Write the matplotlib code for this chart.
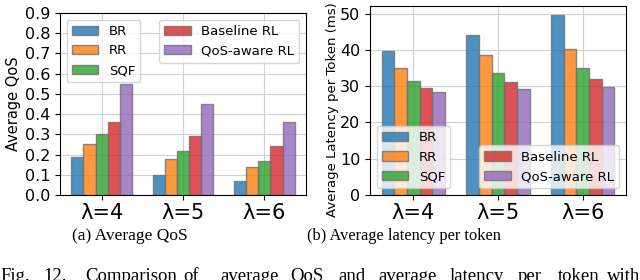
import numpy as np
import matplotlib
matplotlib.use('Agg')
import matplotlib.pyplot as plt

groups = ['λ=4', 'λ=5', 'λ=6']
methods = ['BR', 'RR', 'SQF', 'Baseline RL', 'QoS-aware RL']
colors = ['#1f77b4', '#ff7f0e', '#2ca02c', '#d62728', '#9467bd']

qos = {
    'BR': [0.19, 0.10, 0.07],
    'RR': [0.25, 0.18, 0.14],
    'SQF': [0.30, 0.22, 0.17],
    'Baseline RL': [0.36, 0.29, 0.24],
    'QoS-aware RL': [0.55, 0.45, 0.36],
}
latency = {
    'BR': [39.7, 44.2, 49.6],
    'RR': [35.1, 38.5, 40.2],
    'SQF': [31.3, 33.6, 34.9],
    'Baseline RL': [29.5, 31.0, 32.0],
    'QoS-aware RL': [28.4, 29.3, 29.8],
}

caption_words = ['Fig.', '12.', 'Comparison', 'of', 'average', 'QoS', 'and',
                 'average', 'latency', 'per', 'token', 'with']
caption_x = [0, 43, 85, 183, 220, 290, 338, 378, 450, 518, 558, 607]

fig = plt.figure(figsize=(6.4, 2.8), dpi=100)
ax1 = fig.add_axes([60/640, 85/280, 246/640, 182/280])
ax2 = fig.add_axes([370/640, 85/280, 256/640, 189/280])

x = np.arange(len(groups))
w = 0.15


def draw(ax, data):
    bars = []
    for i, m in enumerate(methods):
        b = ax.bar(x + (i - 2) * w, data[m], w, color=colors[i], alpha=0.8,
                   edgecolor='#707070', linewidth=1, label=m)
        bars.append(b)
    ax.set_xticks(x)
    ax.set_xticklabels(groups, fontsize=15)
    ax.tick_params(axis='x', pad=2)
    ax.tick_params(axis='y', labelsize=11.5)
    ax.grid(True, color='#d0d0d0', linewidth=0.8)
    ax.set_axisbelow(True)
    return bars


b1 = draw(ax1, qos)
ax1.set_ylim(0, 0.9)
ax1.set_yticks(np.arange(0, 0.91, 0.1))
ax1.set_ylabel('Average QoS', fontsize=10.5)
ax1.yaxis.set_label_coords(-0.158, 0.5)
l1 = ax1.legend(b1[:3], methods[:3], loc='upper left', fontsize=9.5)
ax1.add_artist(l1)
ax1.legend(b1[3:], methods[3:], loc='upper right', fontsize=9.5)

b2 = draw(ax2, latency)
ax2.set_yticks(np.arange(0, 51, 10))
ax2.set_ylabel('Average Latency per Token (ms)', fontsize=9.5)
ax2.yaxis.set_label_coords(-0.121, 0.45)
l2 = ax2.legend(b2[:3], methods[:3], loc='lower left', fontsize=9.5)
ax2.add_artist(l2)
ax2.legend(b2[3:], methods[3:], loc='lower right', fontsize=9.5)

serif = ['Liberation Serif', 'DejaVu Serif']
fig.text(130/640, 1 - 236/280, '(a) Average QoS', ha='center', va='center',
         fontsize=12.5, family=serif)
fig.text(404/640, 1 - 236/280, '(b) Average latency per token', ha='center',
         va='center', fontsize=11.8, family=serif)
for word, px in zip(caption_words, caption_x):
    fig.text(px/640, 1 - 268/280, word, ha='left', va='top',
             fontsize=13.5, family=serif)

fig.savefig('out.png', dpi=100)
